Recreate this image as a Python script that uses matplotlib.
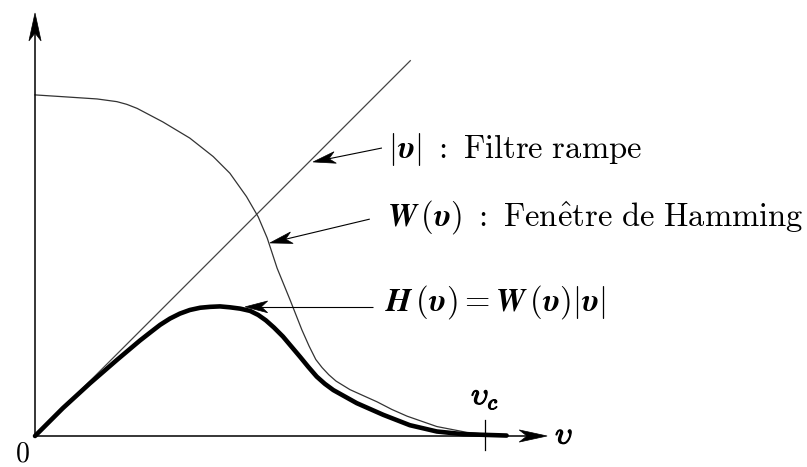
import numpy as np
import matplotlib
matplotlib.use("Agg")
import matplotlib.pyplot as plt
import matplotlib.patheffects as pe
from matplotlib.patches import Polygon

plt.rcParams['mathtext.fontset'] = 'cm'

# fréquence normalisée : v_c = 1
v_w = [0, 0.062, 0.138, 0.182, 0.204, 0.227, 0.284, 0.344, 0.396, 0.433, 0.470,
       0.496, 0.516, 0.538, 0.567, 0.593, 0.609, 0.624, 0.638, 0.653, 0.669, 0.700,
       0.731, 0.760, 0.793, 0.827, 0.893, 0.960, 1.033]
w_vals = [0.758, 0.754, 0.749, 0.743, 0.737, 0.728, 0.698, 0.662, 0.621, 0.584, 0.532,
          0.487, 0.440, 0.373, 0.302, 0.236, 0.200, 0.170, 0.152, 0.136, 0.122, 0.103,
          0.089, 0.076, 0.059, 0.044, 0.021, 0.008, 0.001]

v_h = [0, 0.062, 0.122, 0.182, 0.233, 0.256, 0.278, 0.300, 0.322, 0.344, 0.367,
       0.389, 0.411, 0.433, 0.456, 0.478, 0.496, 0.513, 0.531, 0.551, 0.589, 0.607,
       0.626, 0.644, 0.663, 0.715, 0.774, 0.833, 0.893, 0.952, 1.048]
h_vals = [0, 0.062, 0.117, 0.169, 0.212, 0.230, 0.247, 0.261, 0.272, 0.280, 0.285,
          0.287, 0.288, 0.286, 0.283, 0.278, 0.269, 0.257, 0.241, 0.221, 0.176, 0.154,
          0.132, 0.116, 0.102, 0.073, 0.047, 0.024, 0.010, 0.004, 0.001]

v_ramp = [0, 0.834]
ramp_vals = [0, 0.834]

v_c = 1.0

lbl_ramp = r'$|\mathbfit{\upsilon}|\ :\ \mathrm{Filtre\ rampe}$'
lbl_w = r'$\mathbfit{W}\,(\mathbfit{\upsilon})\ :\ \mathrm{Fen\hat{e}tre\ de\ Hamming}$'
lbl_h = r'$\mathbfit{H}\,(\mathbfit{\upsilon})=\mathbfit{W}\,(\mathbfit{\upsilon})|\mathbfit{\upsilon}|$'


def stealth(ax, tail, tip, length, width):
    # pointe de flèche style LaTeX (dos concave)
    tail = np.array(tail, float)
    tip = np.array(tip, float)
    d = tip - tail
    d = d / np.hypot(*d)
    n = np.array([-d[1], d[0]])
    back = tip - d * length
    notch = tip - d * length * 0.72
    pts = [tip, back + n * width / 2, notch, back - n * width / 2]
    ax.add_patch(Polygon(pts, closed=True, fc='black', ec='black', lw=0.5, zorder=6))


def arrow(ax, tail, tip, lw, length, width):
    d = np.array(tip) - np.array(tail)
    d = d / np.hypot(*d)
    end = np.array(tip) - d * length * 0.6
    ax.plot([tail[0], end[0]], [tail[1], end[1]], color='black', lw=lw,
            solid_capstyle='butt', zorder=5)
    stealth(ax, tail, tip, length, width)


fig = plt.figure(figsize=(8.07, 4.67), dpi=100)
ax = fig.add_axes([0, 0, 1, 1])
ax.set_xlim(-0.0778, 1.7156)
ax.set_ylim(-0.0689, 0.9689)
ax.axis('off')

# axes
arrow(ax, (0, 0), (0, 0.94), 1.1, 0.062, 0.027)
arrow(ax, (0, 0), (1.138, 0), 1.1, 0.062, 0.027)

# courbes
ax.plot(v_ramp, ramp_vals, color='#444444', lw=0.9, zorder=3)
ax.plot(v_w, w_vals, color='#333333', lw=0.9, solid_joinstyle='round', zorder=3)
ax.plot(v_h, h_vals, color='black', lw=3.3, solid_joinstyle='round',
        solid_capstyle='round', zorder=4)

# graduation v_c
bold = [pe.withStroke(linewidth=0.9, foreground='black')]
ax.plot([v_c, v_c], [-0.031, 0.036], color='black', lw=0.9, zorder=5)
ax.text(v_c, 0.087, r'$\upsilon_c$', fontsize=22, ha='center', va='center',
        path_effects=bold)
ax.text(1.176, 0.002, r'$\upsilon$', fontsize=22, ha='center', va='center',
        path_effects=bold)
ax.text(-0.027, -0.057, r'$0$', fontsize=20, ha='center', va='baseline')

# légendes fléchées
arrow(ax, (0.771, 0.640), (0.618, 0.609), 0.8, 0.05, 0.026)
arrow(ax, (0.744, 0.482), (0.522, 0.429), 0.8, 0.05, 0.026)
arrow(ax, (0.751, 0.287), (0.467, 0.287), 0.8, 0.05, 0.026)
ax.text(0.784, 0.636, lbl_ramp, fontsize=23.5, ha='left', va='center')
ax.text(0.782, 0.487, lbl_w, fontsize=23.5, ha='left', va='center')
ax.text(0.778, 0.298, lbl_h, fontsize=23.5, ha='left', va='center')

fig.savefig('out.png', dpi=100)
